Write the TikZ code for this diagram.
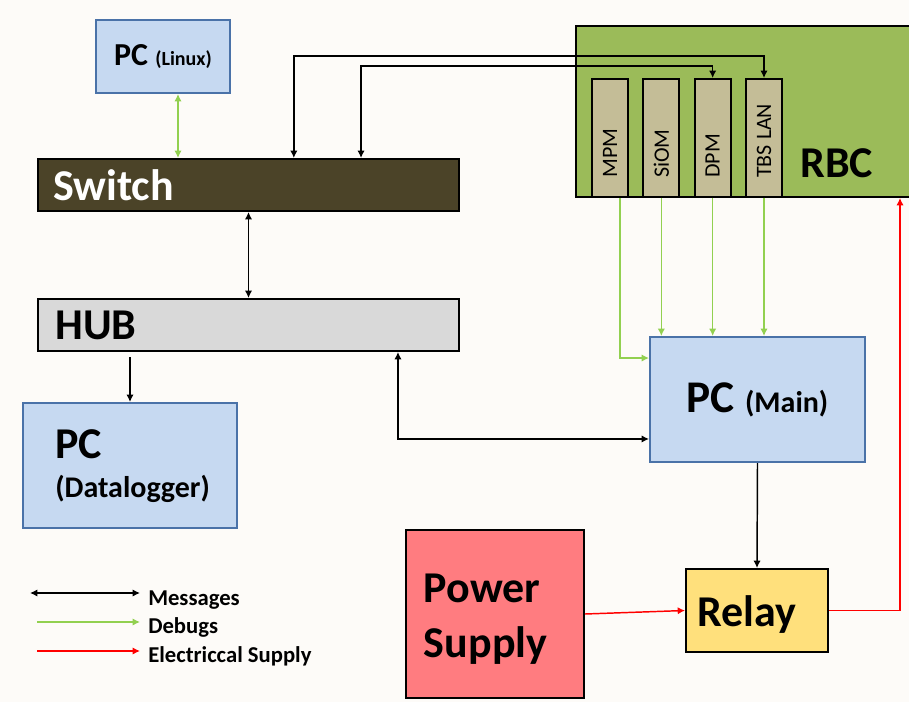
\documentclass[tikz,border=0pt]{standalone}
\usepackage{fontspec}
\setmainfont{Carlito}
\usepackage{tikz}
\usetikzlibrary{positioning}
\usetikzlibrary{shapes.geometric, arrows, arrows.meta}

\definecolor{paper}{HTML}{FDFBF8}
\definecolor{pcblue}{HTML}{C6D9F1}
\definecolor{pcedge}{HTML}{4A72A8}
\definecolor{swdark}{HTML}{4B4328}
\definecolor{hubgray}{HTML}{D9D9D9}
\definecolor{rbcgreen}{HTML}{9BBB59}
\definecolor{cardtan}{HTML}{C4BD97}
\definecolor{psred}{HTML}{FF7C80}
\definecolor{relayyel}{HTML}{FFE07C}
\definecolor{dbggreen}{HTML}{92D050}

\tikzstyle{box} = [draw, line width=1.5pt, anchor=north west, inner sep=0pt]
\tikzstyle{pc} = [box, fill=pcblue, draw=pcedge]
\tikzstyle{card} = [box, fill=cardtan, minimum width=27pt, minimum height=88.5pt]
\tikzstyle{lbl} = [inner sep=0pt]
\tikzstyle{big} = [font=\fontsize{33}{41}\selectfont\bfseries]
\tikzstyle{legend} = [inner sep=0pt, inner xsep=6pt, anchor=base west, font=\fontsize{17}{20}\selectfont\bfseries]
\tikzstyle{msg} = [line width=1.1pt, >={Latex[length=5.5pt,width=5.5pt]}]
\tikzstyle{dbg} = [msg, draw=dbggreen]
\tikzstyle{pwr} = [msg, draw=red]

\begin{document}
\begin{tikzpicture}[x=0.75pt, y=-0.75pt]
  \useasboundingbox (0,0) rectangle (909,702);
  \fill[paper] (0,0) rectangle (909,702);

  % network side
  \node[pc, minimum width=100.5pt, minimum height=54.75pt] (linux) at (95,19)
    {\fontsize{24}{28}\selectfont\bfseries PC {\fontsize{15}{18}\selectfont (Linux)}};
  \node[box, fill=swdark, minimum width=315.75pt, minimum height=39pt] (switch) at (37,158) {};
  \node[lbl, big, text=white, anchor=west] (switchtxt) at ([xshift=12pt]switch.west) {Switch};
  \node[box, fill=hubgray, minimum width=315.75pt, minimum height=39pt] (hub) at (37,298) {};
  \node[lbl, big, anchor=west] (hubtxt) at ([xshift=13.5pt]hub.west) {HUB};
  \node[pc, minimum width=160.5pt, minimum height=93.75pt] (logpc) at (22,402) {};
  \node[lbl, big, anchor=base west] (logpctxt) at (55,458) {PC};
  \node[lbl, anchor=base west, font=\fontsize{22.5}{27}\selectfont\bfseries] (logpcsub) at (55,497) {(Datalogger)};

  % RBC with its cards
  \node[box, fill=rbcgreen, minimum width=252pt, minimum height=128.25pt] (rbc) at (575,25) {};
  \node[lbl, big, anchor=base west] (rbctxt) at (800,178) {RBC};
  \node[card] (MPM) at (591,78) {};
  \node[card, right=10pt of MPM] (SiOM) {};
  \node[card, right=10pt of SiOM] (DPM) {};
  \node[card, right=10pt of DPM] (TBS) {};
  \foreach \c/\t in {MPM/MPM, SiOM/SiOM, DPM/DPM, TBS/TBS LAN}
    \node[lbl, rotate=90, anchor=west, font=\fontsize{16.5}{20}\selectfont] (\c txt) at ([yshift=15pt]\c.south) {\t};

  % main pc, power
  \node[pc, minimum width=161.25pt, minimum height=93.75pt] (pcmain) at (649,336)
    {\fontsize{34}{40}\selectfont\bfseries PC {\fontsize{22.5}{27}\selectfont (Main)}};
  \node[box, fill=psred, minimum width=133.5pt, minimum height=126pt] (power) at (405,529) {};
  \node[lbl, big, align=left, anchor=west] (powertxt) at ([xshift=14pt,yshift=-4pt]power.west) {Power\\Supply};
  \node[box, fill=relayyel, minimum width=106.5pt, minimum height=62.25pt] (relay) at (685,568) {};
  \node[lbl, big, anchor=west] (relaytxt) at ([xshift=9pt,yshift=-3pt]relay.west) {Relay};

  % ports
  \coordinate (linuxport) at ([xshift=11.25pt]linux.south);
  \coordinate (swA) at ([xshift=34pt]switch.north);
  \coordinate (swB) at ([xshift=84.4pt]switch.north);
  \coordinate (hubport) at ([xshift=112.1pt]hub.south);
  \coordinate (mainlan) at ([yshift=-29.6pt]pcmain.west);
  \coordinate (maindbg) at ([yshift=31.1pt]pcmain.west);
  \coordinate (mpmport) at ([xshift=7.5pt]MPM.south);

  % messages
  \draw[msg, <->] (swA) -- ++(0,-102) -| (TBS.north);
  \draw[msg, <->] (swB) -- ++(0,-92) -| (DPM.north);
  \draw[msg, <->] (switch.south) -- (hub.north);
  \draw[msg, ->] ([yshift=33.75pt]logpc.north) -- (logpc.north);
  \draw[msg, <->] (hubport) |- (mainlan);
  \draw[msg, ->] (pcmain.south) -- (relay.north);

  % debugs
  \draw[dbg, <->] (linuxport) -- (linuxport |- switch.north);
  \draw[dbg, ->] (mpmport) |- (maindbg);
  \foreach \c in {SiOM, DPM, TBS}
    \draw[dbg, ->] (\c.south) -- (\c.south |- pcmain.north);

  % supply
  \draw[pwr, ->] (power.east) -- (relay.west);
  \draw[pwr, ->] (relay.east) -| ([xshift=-9.75pt]rbc.south east);

  % legend
  \coordinate (lgmsg) at (30,593);
  \coordinate (lgdbg) at (37,622);
  \coordinate (lgpwr) at (37,651);
  \node[legend] (msgtxt) at (140,605) {Messages};
  \node[legend] (dbgtxt) at (140,633) {Debugs};
  \node[legend] (pwrtxt) at (140,662) {Electriccal Supply};
  \draw[msg, <->, line width=1.4pt] (lgmsg) -- (lgmsg -| msgtxt.west);
  \draw[dbg, ->, line width=1.4pt] (lgdbg) -- (lgdbg -| dbgtxt.west);
  \draw[pwr, ->, line width=1.4pt] (lgpwr) -- (lgpwr -| pwrtxt.west);
\end{tikzpicture}
\end{document}
